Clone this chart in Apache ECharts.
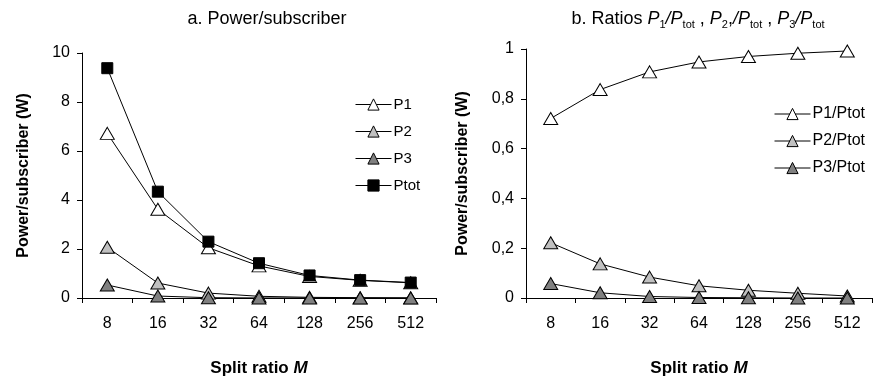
<!DOCTYPE html>
<html><head><meta charset="utf-8">
<script src="https://cdn.jsdelivr.net/npm/echarts@6/dist/echarts.min.js"></script>
<style>html,body{margin:0;padding:0;background:#fff}#c{width:882px;height:382px}</style>
</head><body><div id="c"></div>
<script>
const categories = ['8','16','32','64','128','256','512'];
const P1 = [6.72, 3.62, 2.05, 1.31, 0.88, 0.72, 0.62];
const P2 = [2.07, 0.61, 0.2, 0.07, 0.027, 0.013, 0.005];
const P3 = [0.53, 0.08, 0.012, 0.003, 0.001, 0.0, 0.0];
const Ptot = [9.38, 4.34, 2.3, 1.42, 0.92, 0.73, 0.63];
const R1 = [0.721, 0.837, 0.908, 0.948, 0.970, 0.983, 0.992];
const R2 = [0.222, 0.137, 0.084, 0.049, 0.031, 0.019, 0.008];
const R3 = [0.058, 0.021, 0.006, 0.002, 0.001, 0.0, 0.0];
const leftTicks = {min: 0, max: 10, interval: 2};
const rightTicks = {min: 0, max: 1, interval: 0.2};

const FONT = '"Liberation Sans", Arial, sans-serif';
const chart = echarts.init(document.getElementById('c'));

function xAxis(gi) {
  return {
    type: 'category', gridIndex: gi, data: categories, boundaryGap: true,
    axisLine: {lineStyle: {color: '#000', width: 1}},
    axisTick: {show: true, alignWithLabel: false, length: 5, lineStyle: {color: '#000'}},
    axisLabel: {color: '#000', fontSize: 16, fontFamily: FONT, margin: 18},
    name: 'Split ratio {m|M}', nameLocation: 'middle', nameGap: 62,
    nameTextStyle: {color: '#000', fontSize: 17, fontWeight: 'bold', fontFamily: FONT,
      rich: {m: {fontSize: 17, fontWeight: 'bold', fontStyle: 'italic', fontFamily: FONT, color: '#000'}}}
  };
}
function yAxis(gi, t, fmt, gap) {
  return {
    type: 'value', gridIndex: gi, min: t.min, max: t.max, interval: t.interval,
    splitLine: {show: false},
    axisLine: {show: true, lineStyle: {color: '#000', width: 1}},
    axisTick: {show: true, length: 5, lineStyle: {color: '#000'}},
    axisLabel: {color: '#000', fontSize: 16, fontFamily: FONT, margin: 12, formatter: fmt},
    name: 'Power/subscriber (W)', nameLocation: 'middle', nameGap: gap, nameRotate: 90,
    nameTextStyle: {color: '#000', fontSize: 16, fontWeight: 'bold', fontFamily: FONT}
  };
}
function tri(name, data, color, xi) {
  return {
    name: name, type: 'line', xAxisIndex: xi, yAxisIndex: xi, data: data,
    symbol: 'triangle', symbolSize: [14, 12], showSymbol: true,
    lineStyle: {color: '#000', width: 1},
    itemStyle: {color: color, borderColor: '#000', borderWidth: 1},
    emphasis: {disabled: true}, animation: false
  };
}
const sub = {fontSize: 11, fontFamily: FONT, color: '#000', verticalAlign: 'bottom', padding: [0, 0, -2, 0]};
const it = {fontSize: 18, fontStyle: 'italic', fontFamily: FONT, color: '#000'};
const nm = {fontSize: 18, fontFamily: FONT, color: '#000'};

chart.setOption({
  backgroundColor: '#fff',
  animation: false,
  title: [
    {text: 'a. Power/subscriber', left: 262, textAlign: 'center', top: 5,
     textStyle: {fontSize: 18, fontWeight: 'normal', fontFamily: FONT, color: '#000'}},
    {text: '{n|b. Ratios }{i|P}{s|1}{i|/P}{s|tot}{n| , }{i|P}{s|2}{n|,}{i|/P}{s|tot}{n| , }{i|P}{s|3}{i|/P}{s|tot}',
     left: 693, textAlign: 'center', top: 5,
     textStyle: {fontSize: 18, fontWeight: 'normal', fontFamily: FONT, color: '#000', rich: {n: nm, i: it, s: sub}}}
  ],
  grid: [
    {left: 82, top: 53, width: 354, height: 252},
    {left: 526, top: 49, width: 346, height: 257}
  ],
  xAxis: [xAxis(0), xAxis(1)],
  yAxis: [
    yAxis(0, leftTicks, v => String(v), 50),
    yAxis(1, rightTicks, v => String(+v.toFixed(1)).replace('.', ','), 55)
  ],
  legend: [
    {data: ['P1', 'P2', 'P3', 'Ptot'], orient: 'vertical', left: 350, top: 92,
     itemWidth: 36, itemHeight: 14, itemGap: 12,
     lineStyle: {width: 1, color: '#000'}, itemStyle: {borderWidth: 1, borderColor: '#000'},
     textStyle: {fontSize: 15, fontFamily: FONT, color: '#000', padding: [0, 0, 0, -3]}},
    {data: ['P1/Ptot', 'P2/Ptot', 'P3/Ptot'], orient: 'vertical', left: 769, top: 101,
     itemWidth: 36, itemHeight: 14, itemGap: 11,
     lineStyle: {width: 1, color: '#000'}, itemStyle: {borderWidth: 1, borderColor: '#000'},
     textStyle: {fontSize: 16, fontFamily: FONT, color: '#000', padding: [0, 0, 0, -3]}}
  ],
  series: [
    tri('P1', P1, '#ffffff', 0),
    tri('P2', P2, '#c0c0c0', 0),
    tri('P3', P3, '#808080', 0),
    {name: 'Ptot', type: 'line', xAxisIndex: 0, yAxisIndex: 0, data: Ptot,
     symbol: 'rect', symbolSize: 11, lineStyle: {color: '#000', width: 1},
     itemStyle: {color: '#000', borderColor: '#000', borderWidth: 1}, emphasis: {disabled: true}},
    tri('P1/Ptot', R1, '#ffffff', 1),
    tri('P2/Ptot', R2, '#c0c0c0', 1),
    tri('P3/Ptot', R3, '#808080', 1)
  ]
});
</script></body></html>
